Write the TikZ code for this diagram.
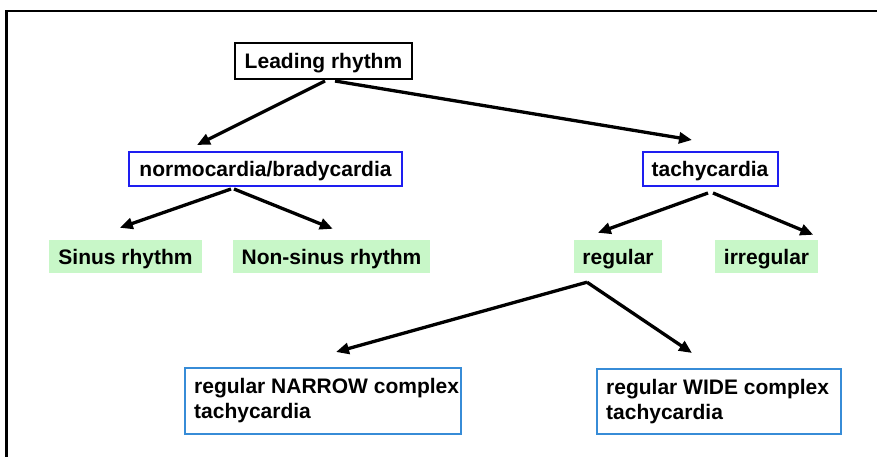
\documentclass[tikz,border=0pt]{standalone}
\usepackage{fontspec}
\setmainfont{Liberation Sans}
\usetikzlibrary{arrows.meta,calc}
\definecolor{leafgreen}{RGB}{200,247,200}
\definecolor{branchblue}{RGB}{30,30,240}
\definecolor{lightblue}{RGB}{55,140,215}
\begin{document}
\begin{tikzpicture}[x=1pt,y=-1pt,
  every node/.style={font=\fontsize{21}{25}\selectfont\bfseries, inner sep=0pt, anchor=center},
  oneline/.style={text height=19pt, text depth=4pt},
  rootbox/.style={oneline, draw=black, line width=2pt, minimum width=177pt, minimum height=36pt},
  branchbox/.style={oneline, draw=branchblue, line width=2pt, minimum height=34pt},
  leafbox/.style={oneline, fill=leafgreen, minimum height=33pt},
  typebox/.style={draw=lightblue, line width=2pt},
  typetext/.style={anchor=west, align=left},
  arr/.style={line width=3.3pt, -{Triangle[length=13pt,width=11pt]}}
]
% canvas and open frame
\useasboundingbox (0,0) rectangle (877,457);
\fill[white] (0,0) rectangle (877,457);
\draw[line width=2.5pt] (6.5,457) -- (6.5,11) -- (877,11);

% nodes
\node[rootbox] (lead) at (323.5,61) {Leading rhythm};
\node[branchbox, minimum width=273pt] (normo) at (265.5,169) {normocardia/bradycardia};
\node[branchbox, minimum width=135pt] (tachy) at (710,169) {tachycardia};
\node[leafbox, minimum width=153pt] (sinus) at (125.5,256.5) {Sinus rhythm};
\node[leafbox, minimum width=197pt] (nonsinus) at (331.5,256.5) {Non-sinus rhythm};
\node[leafbox, minimum width=88pt] (regular) at (618,256.5) {regular};
\node[leafbox, minimum width=103pt] (irregular) at (766.5,256.5) {irregular};
\node[typebox, minimum width=276pt, minimum height=66pt] (narrow) at (323,401) {};
\node[typetext] (narrowtext) at ($(narrow.west)+(10,0)$)
  {regular NARROW complex\\tachycardia};
\node[typebox, minimum width=244pt, minimum height=65pt] (wide) at (719,401.5) {};
\node[typetext] (widetext) at ($(wide.west)+(10,0)$)
  {regular WIDE complex\\tachycardia};

% arrow tips just above the child boxes
\coordinate (tipNormo) at ($(normo.north west)+(69,-6)$);
\coordinate (tipTachy) at ($(tachy.north west)+(50.5,-11)$);
\coordinate (tipSinus) at ($(sinus.north west)+(71,-12)$);
\coordinate (tipNonsinus) at ($(nonsinus.north west)+(100,-11)$);
\coordinate (tipRegular) at ($(regular.north west)+(24,-7)$);
\coordinate (tipIrregular) at ($(irregular.north west)+(98.5,-5)$);
\coordinate (tipNarrow) at ($(narrow.north west)+(152,-15)$);
\coordinate (tipWide) at ($(wide.north west)+(96,-15)$);

% connectors
\draw[arr] ($(lead.south)+(1.5,1)$) -- (tipNormo);
\draw[arr] ($(lead.south)+(11.5,1)$) -- (tipTachy);
\draw[arr] ($(normo.south)+(-34.5,2)$) -- (tipSinus);
\draw[arr] ($(normo.south)+(-31.5,2)$) -- (tipNonsinus);
\draw[arr] ($(tachy.south)+(-2,6)$) -- (tipRegular);
\draw[arr] ($(tachy.south)+(3,6)$) -- (tipIrregular);
\draw[arr] ($(regular.south)+(-31,9)$) -- (tipNarrow);
\draw[arr] ($(regular.south)+(-31,9)$) -- (tipWide);
\end{tikzpicture}
\end{document}
